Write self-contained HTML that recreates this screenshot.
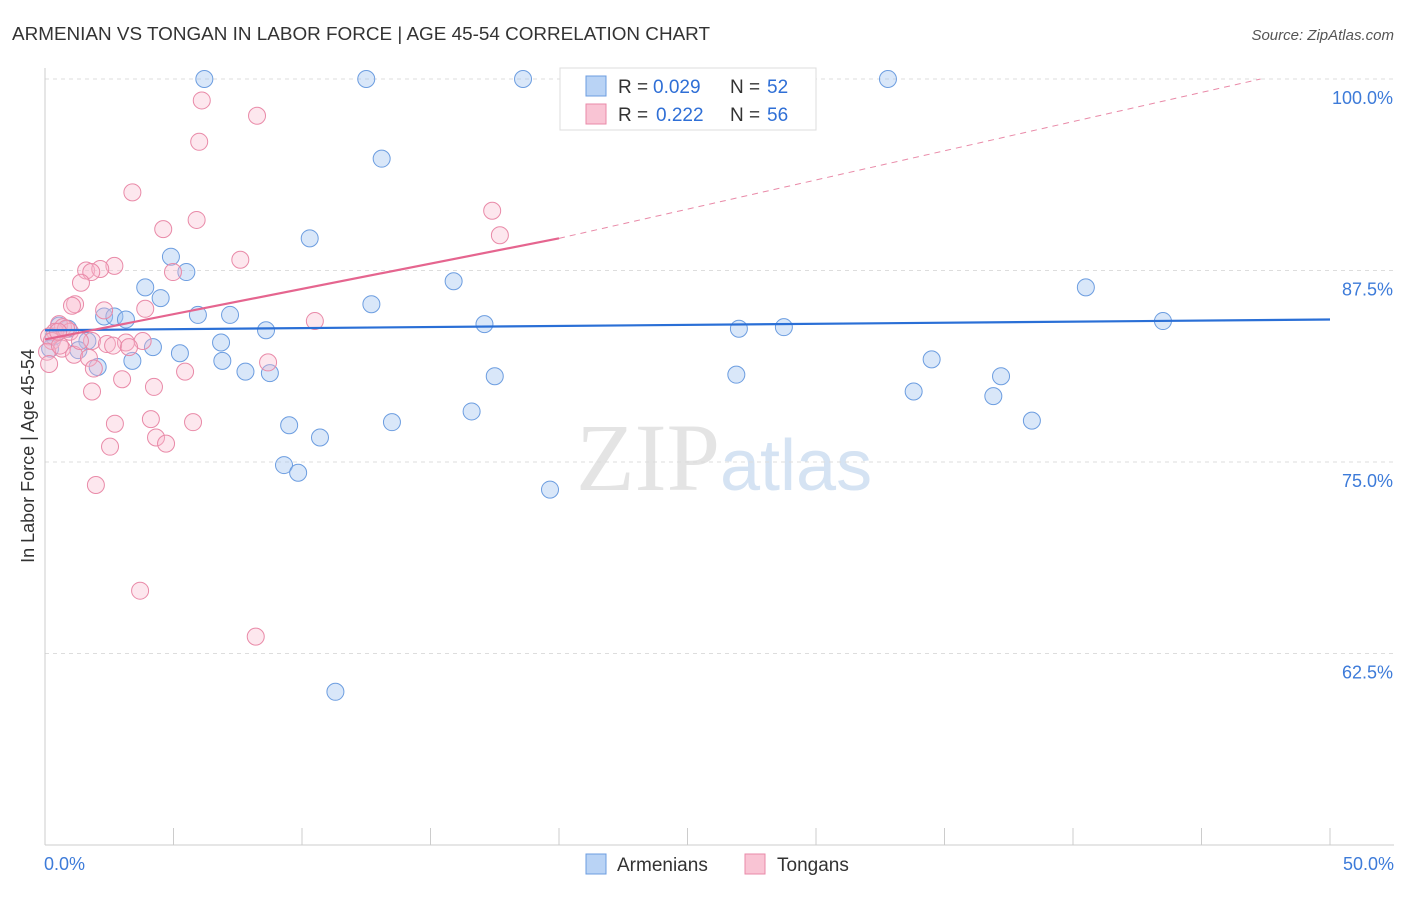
<!DOCTYPE html>
<html><head><meta charset="utf-8"><style>
body{margin:0;background:#fff;font-family:"Liberation Sans",sans-serif}
</style></head><body>
<svg id="chart" width="1406" height="892" xmlns="http://www.w3.org/2000/svg" font-family="Liberation Sans, sans-serif">
<text x="12" y="40" font-size="18" fill="#333" textLength="698" lengthAdjust="spacingAndGlyphs">ARMENIAN VS TONGAN IN LABOR FORCE | AGE 45-54 CORRELATION CHART</text>
<text x="1394" y="40" font-size="15" fill="#555" font-style="italic" text-anchor="end">Source: ZipAtlas.com</text>
<text x="720" y="490" font-size="96" fill="#e4e4e4" text-anchor="end" font-family="Liberation Serif, serif">ZIP</text>
<text x="720" y="490" font-size="72" fill="#d5e3f3">atlas</text>
<text transform="translate(34,456) rotate(-90)" font-size="18" fill="#333" text-anchor="middle">In Labor Force | Age 45-54</text>
<g id="grid"></g><g id="pts"></g><g id="lines"></g>
<g>
<rect x="560" y="68" width="256" height="62" fill="#fff" stroke="#ddd"/>
<rect x="586" y="76" width="20" height="20" fill="#b9d3f5" stroke="#6c9de0"/>
<rect x="586" y="104" width="20" height="20" fill="#f9c4d4" stroke="#e98aa8"/>
<text y="93" font-size="19" fill="#333"><tspan x="618">R =</tspan><tspan x="653" fill="#2f6fd6">0.029</tspan><tspan x="730">N =</tspan><tspan x="767" fill="#2f6fd6">52</tspan></text>
<text y="121" font-size="19" fill="#333"><tspan x="618">R =</tspan><tspan x="656" fill="#2f6fd6">0.222</tspan><tspan x="730">N =</tspan><tspan x="767" fill="#2f6fd6">56</tspan></text>
</g>
<g>
<rect x="586" y="854" width="20" height="20" fill="#b9d3f5" stroke="#6c9de0"/>
<text x="617" y="871" font-size="19" fill="#333">Armenians</text>
<rect x="745" y="854" width="20" height="20" fill="#f9c4d4" stroke="#e98aa8"/>
<text x="777" y="871" font-size="19" fill="#333">Tongans</text>
</g>
</svg>
<script>
const yTicks=[100,87.5,75,62.5];
const yTickLabels=["100.0%","87.5%","75.0%","62.5%"];
const xTickLabels=["0.0%","50.0%"];
const armX=[6.2,12.5,18.6,32.8,13.1,10.3,4.9,5.5,3.9,4.5,15.9,12.7,40.5,43.5,5.95,7.2,2.3,2.7,3.15,17.1,8.6,27.0,28.75,0.55,0.9,0.35,1.65,6.85,4.2,5.25,1.3,3.4,6.9,34.5,2.05,7.8,8.75,17.5,26.9,37.2,33.8,36.9,16.6,13.5,9.5,38.4,10.7,9.3,9.85,19.65,11.3,0.2];
const armY=[100,100,100,100,94.8,89.6,88.4,87.4,86.4,85.7,86.8,85.3,86.4,84.2,84.6,84.6,84.5,84.5,84.3,84.0,83.6,83.7,83.8,83.9,83.7,83.2,82.9,82.8,82.5,82.1,82.3,81.6,81.6,81.7,81.2,80.9,80.8,80.6,80.7,80.6,79.6,79.3,78.3,77.6,77.4,77.7,76.6,74.8,74.3,73.2,60.0,82.4];
const tonX=[6.1,8.25,6.0,3.4,5.9,4.6,17.4,17.7,7.6,2.7,1.6,2.15,1.8,4.98,1.4,1.17,1.05,3.9,2.3,10.5,0.55,0.7,0.97,0.39,0.16,0.27,1.83,3.15,2.41,2.65,3.8,3.27,0.66,0.08,1.13,1.71,8.68,0.16,1.9,5.45,3.0,4.24,1.83,4.12,5.76,2.72,4.32,4.71,2.53,1.98,3.7,8.2,1.36,0.82,0.58,0.51];
const tonY=[98.6,97.6,95.9,92.6,90.8,90.2,91.4,89.8,88.2,87.8,87.5,87.6,87.4,87.4,86.7,85.3,85.2,85.0,84.9,84.2,84.0,83.8,83.5,83.5,83.2,82.9,82.9,82.8,82.7,82.6,82.9,82.5,82.4,82.2,82.0,81.8,81.5,81.4,81.1,80.9,80.4,79.9,79.6,77.8,77.6,77.5,76.6,76.2,76.0,73.5,66.6,63.6,82.9,83.7,82.6,83.5];
const armTrend=[83.6,84.3];
const tonTrendX=[0,20,47.3];
const tonTrendY=[83.0,89.6,100];
const NS="http://www.w3.org/2000/svg";
const X=v=>45+v/50*1285, Y=v=>79+(100-v)/12.5*191.5;
function mk(tag,attrs,parent){const e=document.createElementNS(NS,tag);for(const k in attrs)e.setAttribute(k,attrs[k]);document.getElementById(parent).appendChild(e);return e;}
yTicks.forEach((t,i)=>{
 const l=mk('line',{x1:45,x2:1394,y1:Y(t),y2:Y(t),stroke:'#ddd','stroke-dasharray':'4,4'},'grid');
 
 
 const tx=mk('text',{x:1393,y:Y(t)+25,'font-size':18,fill:'#3d7bd9','text-anchor':'end'},'grid');tx.textContent=yTickLabels[i];
 
 
});
const ax=mk('line',{x1:45,x2:45,y1:68,y2:845,stroke:'#ccc'},'grid');


const bx=mk('line',{x1:45,x2:1394,y1:845,y2:845,stroke:'#ccc'},'grid');


for(let i=0;i<=10;i++){const t=mk('line',{x1:X(i*5),x2:X(i*5),y1:828,y2:845,stroke:'#ccc'},'grid');
 
 }
[[0,'start',44],[50,'end',1394]].forEach((d,i)=>{const t=mk('text',{x:d[2],y:870,'font-size':18,fill:'#3d7bd9','text-anchor':d[1]},'grid');t.textContent=xTickLabels[i];
 
 });
armX.forEach((v,i)=>{const c=mk('circle',{cx:X(v),cy:Y(armY[i]),r:8.5,fill:'rgba(160,195,240,0.4)',stroke:'#6c9de0','stroke-width':1},'pts');
 
 });
tonX.forEach((v,i)=>{const c=mk('circle',{cx:X(v),cy:Y(tonY[i]),r:8.5,fill:'rgba(248,185,205,0.35)',stroke:'#e98aa8','stroke-width':1},'pts');
 
 });
const bl=mk('line',{x1:X(0),x2:X(50),y1:Y(armTrend[0]),y2:Y(armTrend[1]),stroke:'#2a6fd6','stroke-width':2.2},'lines');


const pl=mk('line',{x1:X(tonTrendX[0]),x2:X(tonTrendX[1]),y1:Y(tonTrendY[0]),y2:Y(tonTrendY[1]),stroke:'#e5658f','stroke-width':2.2},'lines');


const pd=mk('line',{x1:X(tonTrendX[1]),x2:X(tonTrendX[2]),y1:Y(tonTrendY[1]),y2:Y(tonTrendY[2]),stroke:'#e98aa8','stroke-width':1,'stroke-dasharray':'6,5'},'lines');


</script>
</body></html>
